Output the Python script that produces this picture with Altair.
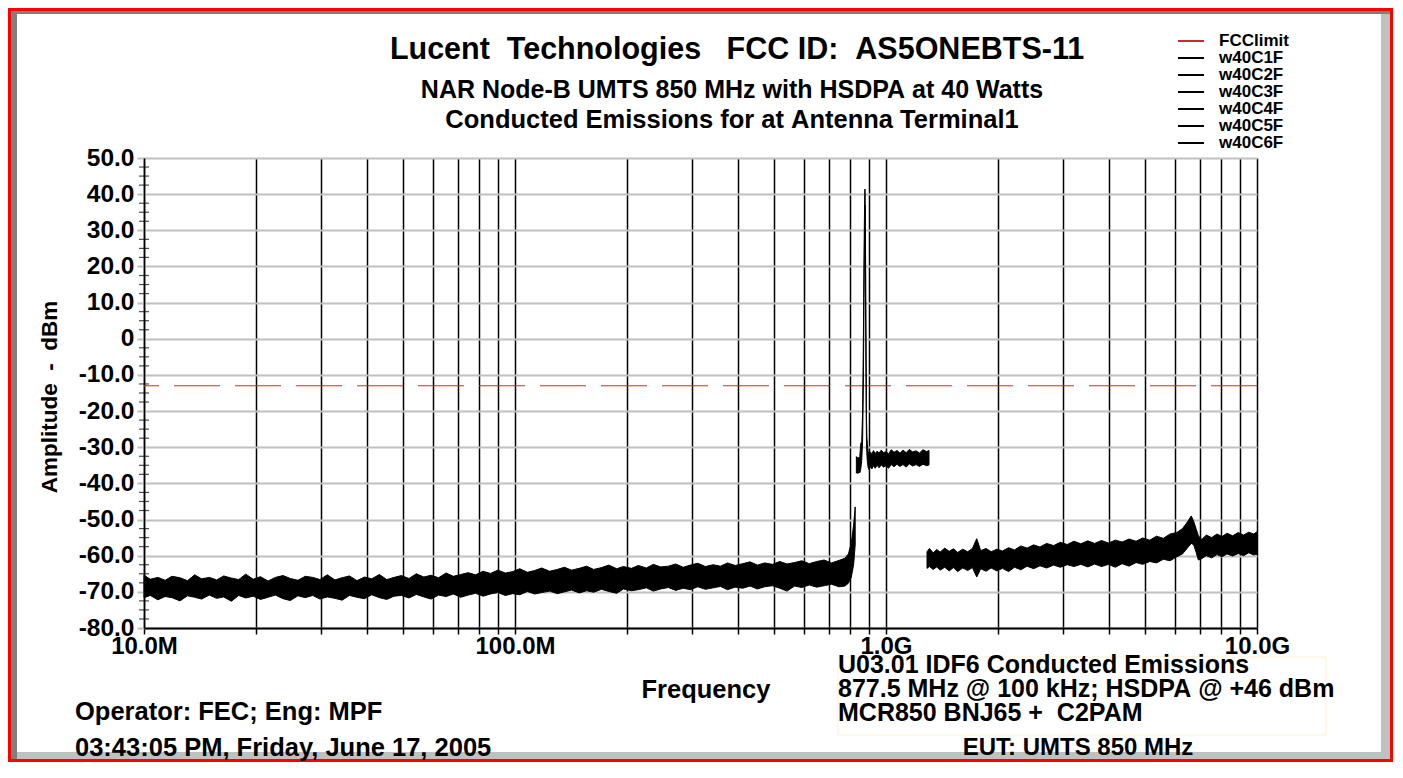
import altair as alt
import pandas as pd

FONT = "Liberation Sans"

# ---------------- data ----------------
# Segment 1: 10 MHz .. ~826 MHz (MHz, upper edge dBm, lower edge dBm)
seg1_freq = [10.0, 10.4, 10.9, 11.4, 11.9, 12.5, 13.1, 13.7, 14.3, 15.0,
             15.7, 16.4, 17.2, 18.0, 18.8, 19.7, 20.6, 21.6, 22.6, 23.7,
             24.8, 26.0, 27.2, 28.5, 29.8, 31.2, 32.7, 34.2, 35.8, 37.5,
             39.3, 41.1, 43.1, 45.1, 47.2, 49.4, 51.8, 54.2, 56.8, 59.4,
             62.2, 65.2, 68.2, 71.4, 74.8, 78.3, 82.0, 85.9, 89.9, 94.2,
             98.6, 103, 108, 113, 118, 124, 130, 136, 142, 149,
             156, 163, 171, 179, 188, 196, 206, 215, 226, 236,
             247, 259, 271, 284, 297, 311, 326, 342, 358, 374,
             392, 411, 430, 450, 471, 494, 517, 541, 567, 593,
             621, 651, 681, 713, 747, 775, 792, 806, 818, 826]
seg1_top = [-65.4, -66.5, -66.0, -66.8, -65.7, -66.1, -66.9, -65.3, -66.4, -66.0,
            -66.7, -65.6, -66.2, -66.6, -65.1, -66.5, -65.8, -67.0, -66.0, -65.5,
            -66.3, -66.8, -65.7, -66.0, -66.6, -65.3, -66.7, -66.1, -65.6, -66.9,
            -65.9, -66.4, -65.2, -66.6, -66.0, -65.5, -66.3, -65.0, -65.9, -65.4,
            -66.1, -64.8, -65.7, -65.2, -64.7, -65.3, -64.3, -64.9, -64.0, -64.8,
            -64.4, -63.6, -64.6, -64.1, -63.4, -64.3, -63.8, -63.2, -64.0, -63.5,
            -62.9, -63.8, -63.3, -62.6, -63.6, -63.0, -63.5, -62.7, -63.4, -62.4,
            -63.1, -62.9, -62.3, -63.2, -62.6, -62.1, -63.0, -62.5, -62.9, -62.0,
            -62.7, -62.2, -61.7, -62.6, -62.0, -62.4, -61.6, -62.3, -61.9, -61.4,
            -62.2, -61.6, -61.2, -62.0, -61.3, -60.7, -59.5, -56.5, -51.5, -46.5]
seg1_bot = [-71.6, -71.0, -72.2, -71.3, -71.6, -72.5, -71.1, -71.5, -72.0, -70.9,
            -71.8, -71.4, -72.6, -71.0, -71.7, -71.2, -72.1, -71.5, -70.9, -71.9,
            -72.4, -71.1, -71.6, -71.0, -72.0, -71.4, -71.8, -72.3, -71.0, -71.5,
            -71.9, -70.8, -71.6, -72.1, -71.2, -71.0, -71.7, -70.7, -71.4, -72.0,
            -70.9, -71.3, -70.6, -71.5, -70.9, -70.4, -71.2, -70.6, -70.2, -71.0,
            -70.5, -70.8, -69.9, -70.6, -70.2, -69.8, -70.5, -70.0, -69.5, -70.3,
            -69.7, -70.1, -69.3, -69.9, -70.4, -69.2, -69.7, -69.4, -68.9, -69.8,
            -69.2, -68.8, -69.6, -69.0, -69.4, -68.6, -69.3, -68.9, -68.5, -69.4,
            -68.7, -69.0, -68.4, -69.2, -68.6, -68.3, -69.0, -69.8, -68.4, -68.8,
            -68.1, -68.7, -68.3, -67.9, -68.6, -68.4, -67.6, -66.0, -62.5, -57.0]

# Segment 2: carrier region ~832 MHz .. 1.31 GHz
seg2_freq = [832, 836, 840, 845, 850, 855, 860, 865, 869, 872, 874.5, 876.5, 877.5, 878.5, 880, 882, 884,
             886, 888, 891, 895, 900, 908, 916, 925, 935, 946, 958, 971, 985, 1000, 1016, 1033, 1051,
             1070, 1090, 1111, 1133, 1156, 1180, 1205, 1231, 1258, 1286, 1306]
seg2_top = [-32.6, -33.5, -32.7, -33.3, -32.5, -29.0, -28.4, -20.0, 0.0, 20.0, 33.0, 40.0, 41.4, 40.0,
            30.0, 15.0, -5.0, -22.0, -27.0, -29.3, -31.2, -31.9, -31.3, -32.0, -30.9, -31.7, -31.1,
            -31.6, -30.8, -31.5, -31.2, -31.8, -30.7, -31.4, -30.9, -31.6, -30.8, -31.5, -30.6, -31.3,
            -31.0, -31.6, -30.7, -31.2, -30.9]
seg2_bot = [-37.2, -36.6, -37.3, -36.8, -37.1, -36.0, -33.8, -28.0, -12.0, 8.0, 24.0, 33.0, 37.0, 31.0,
            16.0, 0.0, -18.0, -29.0, -31.8, -34.2, -35.6, -36.2, -35.3, -36.0, -35.1, -35.8, -35.0,
            -35.7, -34.9, -35.5, -35.1, -35.8, -34.8, -35.4, -34.7, -35.3, -34.8, -35.5, -34.6, -35.2,
            -34.8, -35.3, -34.7, -35.1, -34.9]

# Segment 3: 1.29 GHz .. 10 GHz
seg3_freq = [1290, 1310, 1340, 1370, 1400, 1440, 1480, 1520, 1560, 1610, 1660, 1710, 1756, 1800, 1860,
             1920, 1990, 2060, 2140, 2220, 2310, 2400, 2500, 2600, 2710, 2830, 2950, 3080, 3210, 3350,
             3500, 3650, 3810, 3980, 4150, 4330, 4520, 4720, 4920, 5140, 5360, 5590, 5830, 6080, 6300,
             6500, 6650, 6750, 6850, 6950, 7100, 7300, 7550, 7800, 8050, 8300, 8600, 8900, 9200, 9500,
             9800, 10000]
seg3_top = [-58.9, -58.0, -59.2, -58.3, -59.0, -57.9, -58.8, -58.1, -59.1, -58.2, -58.9, -58.0, -55.3,
            -58.6, -58.0, -58.9, -58.2, -58.7, -57.8, -58.4, -57.3, -57.9, -57.0, -57.6, -56.6, -57.2,
            -56.3, -56.9, -56.0, -56.7, -55.9, -56.6, -55.8, -56.5, -55.7, -56.2, -55.4, -56.0, -55.1,
            -55.7, -54.6, -55.2, -54.0, -53.6, -52.5, -50.6, -49.0, -50.5, -52.5, -54.5, -55.5, -54.3,
            -55.0, -54.0, -54.7, -53.8, -54.5, -53.6, -54.3, -53.5, -54.0, -53.4]
seg3_bot = [-63.5, -63.0, -63.8, -63.1, -64.0, -63.2, -64.2, -63.3, -64.4, -63.4, -64.1, -63.3, -65.9,
            -63.6, -64.3, -63.4, -64.2, -63.5, -64.4, -63.2, -63.9, -62.9, -63.6, -62.8, -63.4, -62.6,
            -63.2, -62.5, -63.0, -62.4, -63.1, -62.3, -63.0, -62.4, -63.2, -62.2, -62.9, -61.9, -62.4,
            -61.6, -62.0, -61.0, -61.4, -60.3, -59.5, -57.8, -56.6, -57.0, -59.0, -61.2, -60.8, -60.0,
            -60.6, -59.7, -60.3, -59.5, -60.1, -59.4, -60.0, -59.2, -59.8, -59.6]

fcc_limit = [-13.0]
legend_names = ["FCClimit", "w40C1F", "w40C2F", "w40C3F", "w40C4F", "w40C5F", "w40C6F"]
legend_colors = ["#c03030", "#000000", "#000000", "#000000", "#000000", "#000000", "#000000"]

x_tick_vals = [10, 20, 30, 40, 50, 60, 70, 80, 90, 100, 200, 300, 400, 500, 600, 700, 800, 900,
               1000, 2000, 3000, 4000, 5000, 6000, 7000, 8000, 9000, 10000]
y_tick_vals = [-80, -70, -60, -50, -40, -30, -20, -10, 0, 10, 20, 30, 40, 50]
y_minor_vals = [47.5, 45, 42.5, 37.5, 35, 32.5, 27.5, 25, 22.5, 17.5, 15, 12.5, 7.5, 5, 2.5,
                -2.5, -5, -7.5, -12.5, -15, -17.5, -22.5, -25, -27.5, -32.5, -35, -37.5,
                -42.5, -45, -47.5, -52.5, -55, -57.5, -62.5, -65, -67.5, -72.5, -75, -77.5]

title_text = "Lucent  Technologies   FCC ID:  AS5ONEBTS-11"
subtitle_lines = ["NAR Node-B UMTS 850 MHz with HSDPA at 40 Watts",
                  "Conducted Emissions for at Antenna Terminal1"]
y_title = "Amplitude  -  dBm"
x_title = "Frequency"
footer_left = ["Operator: FEC; Eng: MPF", "03:43:05 PM, Friday, June 17, 2005"]
box_lines = ["U03.01 IDF6 Conducted Emissions",
             "877.5 MHz @ 100 kHz; HSDPA @ +46 dBm",
             "MCR850 BNJ65 +  C2PAM"]
footer_right = "EUT: UMTS 850 MHz"

# ---------------- tables ----------------
rows = []
for seg, (fs, ts, bs) in enumerate([(seg1_freq, seg1_top, seg1_bot),
                                    (seg2_freq, seg2_top, seg2_bot),
                                    (seg3_freq, seg3_top, seg3_bot)]):
    for f, t, b in zip(fs, ts, bs):
        rows.append({"freq": f, "top": t, "bot": b, "seg": seg})
trace_df = pd.DataFrame(rows)
fcc_df = pd.DataFrame({"amp": fcc_limit, "series": ["FCClimit"]})
minor_df = pd.DataFrame({"amp": y_minor_vals, "freq": [10] * len(y_minor_vals)})
one = pd.DataFrame({"a": [0]})

# ---------------- geometry ----------------
PW, PH = 1113, 470
PAD = {"left": 136, "top": 150, "right": 136, "bottom": 134}
TOTW = PAD["left"] + PW + PAD["right"]
TOTH = PAD["top"] + PH + PAD["bottom"]
X0, Y0 = -PAD["left"], -PAD["top"]

x_scale = alt.Scale(type="log", domain=[10, 10000], nice=False)
y_scale = alt.Scale(domain=[-80, 50], nice=False)

x_label_expr = ("datum.value == 10 ? '10.0M' : datum.value == 100 ? '100.0M' : "
                "datum.value == 1000 ? '1.0G' : datum.value == 10000 ? '10.0G' : ''")
y_label_expr = ("datum.value == 0 ? '0' : (datum.value < 0 ? '-' + format(-datum.value, '.1f') "
                ": format(datum.value, '.1f'))")

x_axis = alt.Axis(values=x_tick_vals, labelExpr=x_label_expr, grid=True, gridColor="#000000",
                  gridWidth=1.5, tickColor="#000000", tickWidth=1.5, tickSize=6,
                  domainColor="#000000", domainWidth=2, labelFont=FONT, labelFontSize=24,
                  labelFontWeight="bold", labelColor="#000000", labelFlush=False,
                  labelOverlap=False, labelBaseline="alphabetic", labelPadding=19, title=None)
y_axis = alt.Axis(values=y_tick_vals, labelExpr=y_label_expr, grid=True, gridColor="#c0c0c0",
                  gridWidth=2, tickColor="#c0c0c0", tickWidth=2, tickSize=7,
                  domainColor="#000000", domainWidth=1.5, labelFont=FONT, labelFontSize=24.5,
                  labelFontWeight="bold", labelColor="#000000", labelPadding=3,
                  labelOverlap=False, labelFlush=False, labelBound=False, title=None)


def keep_spaces(s):
    # SVG collapses runs of blanks; non-breaking spaces keep the original spacing
    return s.replace(" ", "\u00a0")


def rect(x, x2, y, y2, **kw):
    return alt.Chart(one).mark_rect(**kw).encode(
        x=alt.value(x), x2=alt.value(x2), y=alt.value(y), y2=alt.value(y2))


def txt(s, x, y, size, align="left", angle=0):
    return alt.Chart(one).mark_text(
        font=FONT, fontSize=size, fontWeight="bold", color="#000000", align=align,
        baseline="middle", angle=angle).encode(
        x=alt.value(x), y=alt.value(y), text=alt.value(keep_spaces(s)))


# frame (decoration around the whole picture)
frame = [
    rect(X0 + 3, X0 + 9, Y0 + 3, Y0 + TOTH - 3, color="#808080"),
    rect(X0 + 3, X0 + TOTW - 3, Y0 + 3, Y0 + 6, color="#808080"),
    rect(X0 + TOTW - 12, X0 + TOTW - 3, Y0 + 6, Y0 + TOTH - 3, color="#c0c0c0"),
    rect(X0 + 9, X0 + TOTW - 3, Y0 + TOTH - 10, Y0 + TOTH - 3, color="#c0c0c0"),
    rect(X0 + 1.5, X0 + TOTW - 1.5, Y0 + 1.5, Y0 + TOTH - 1.5, filled=False,
         stroke="#ff0000", strokeWidth=3),
    rect(694, 1182, 499, 577, filled=False, stroke="#fff0d0", strokeWidth=1),
]

fcc = alt.Chart(fcc_df).mark_rule(strokeWidth=1, strokeDash=[46, 15]).encode(
    y=alt.Y("amp:Q", scale=y_scale, axis=y_axis),
    color=alt.Color("series:N", scale=alt.Scale(domain=legend_names, range=legend_colors),
                    legend=alt.Legend(orient="none", legendX=1038, legendY=-126, title=None,
                                      symbolType="M-1.625,0H1.625", symbolSize=256,
                                      symbolStrokeWidth=2,
                                      labelFont=FONT, labelFontSize=17, labelFontWeight="bold",
                                      labelColor="#000000", labelOffset=19, rowPadding=0,
                                      padding=0)),
)

trace = alt.Chart(trace_df).mark_area(color="#000000", stroke="#000000", strokeWidth=1).encode(
    x=alt.X("freq:Q", scale=x_scale, axis=x_axis),
    y=alt.Y("top:Q", scale=y_scale, axis=y_axis),
    y2="bot:Q",
    detail="seg:N",
)

minor = alt.Chart(minor_df).mark_tick(orient="horizontal", size=10, thickness=1.2,
                                      color="#000000").encode(
    x=alt.X("freq:Q", scale=x_scale, axis=x_axis),
    y=alt.Y("amp:Q", scale=y_scale, axis=y_axis),
)

texts = [
    txt(title_text, 593, -108, 30.5, align="center"),
    txt(subtitle_lines[0], 588, -68, 25, align="center"),
    txt(subtitle_lines[1], 588, -38, 25.5, align="center"),
    txt(y_title, -94, 239, 22.5, align="center", angle=270),
    txt(x_title, 562, 532, 25.5, align="center"),
    txt(footer_left[0], -69, 554, 25.5),
    txt(footer_left[1], -69, 590, 25.5),
    txt(box_lines[0], 694, 507, 25),
    txt(box_lines[1], 694, 531, 25),
    txt(box_lines[2], 694, 555, 25),
    txt(footer_right, 934, 590, 24, align="center"),
]

chart = alt.layer(*frame, fcc, trace, minor, *texts).properties(
    width=PW, height=PH,
    autosize=alt.AutoSizeParams(type="none"),
    padding=PAD,
    background="#ffffff",
).configure_view(strokeWidth=0).configure_axisY(labelOverlap=False)

chart.save("out.html", embed_options={"renderer": "svg", "actions": False})
